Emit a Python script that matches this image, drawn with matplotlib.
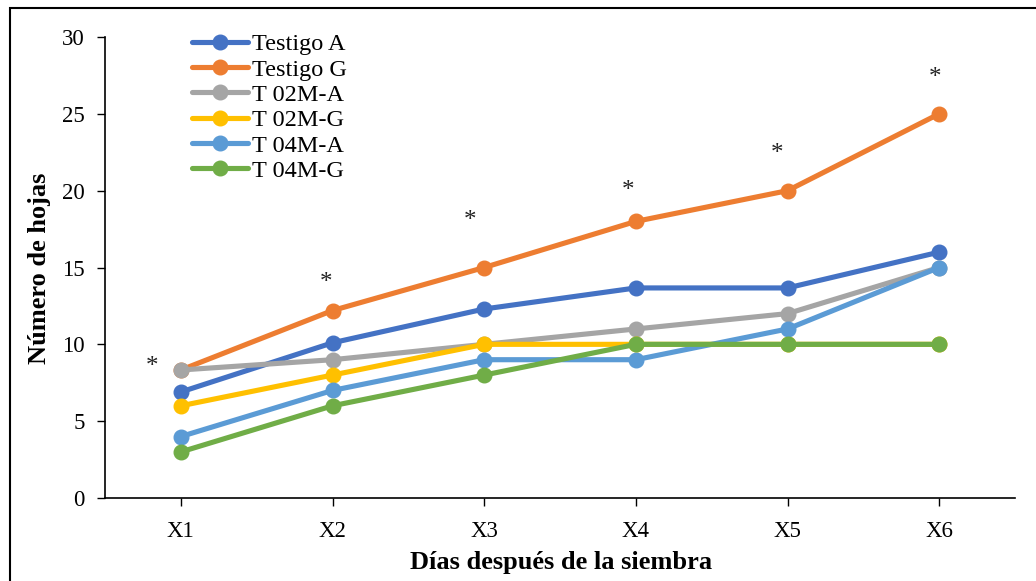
import matplotlib
matplotlib.use("Agg")
import matplotlib.pyplot as plt
from matplotlib.patches import Rectangle

plt.rcParams['font.family'] = ['Liberation Serif', 'DejaVu Serif']

categories = ["X1", "X2", "X3", "X4", "X5", "X6"]
series_names = ["Testigo A", "Testigo G", "T 02M-A", "T 02M-G", "T 04M-A", "T 04M-G"]
testigo_a = [6.9, 10.1, 12.3, 13.67, 13.67, 16.0]
testigo_g = [8.33, 12.2, 15.0, 18.0, 20.0, 25.0]
t02m_a = [8.33, 9.0, 10.0, 11.0, 12.0, 15.0]
t02m_g = [6.0, 8.0, 10.0, 10.0, 10.0, 10.0]
t04m_a = [4.0, 7.0, 9.0, 9.0, 11.0, 15.0]
t04m_g = [3.0, 6.0, 8.0, 10.0, 10.0, 10.0]
colors = ["#4472C4", "#ED7D31", "#A5A5A5", "#FFC000", "#5B9BD5", "#70AD47"]

# significance marks above each sampling day
star_x = [-0.19, 0.96, 1.91, 2.95, 3.93, 4.97]
star_y = [8.55, 14.0, 18.0, 20.0, 22.4, 27.3]

fig = plt.figure(figsize=(10.36, 5.81), dpi=100)
W, H = 1036, 581
ax = fig.add_axes([105 / W, 1 - 498 / H, (1015 - 105) / W, (498 - 37) / H])

x = list(range(len(categories)))
for name, vals, c in zip(series_names,
                         [testigo_a, testigo_g, t02m_a, t02m_g, t04m_a, t04m_g],
                         colors):
    ax.plot(x, vals, color=c, lw=3.7, marker='o', ms=10.5, label=name,
            solid_capstyle='round')

for sx, sy in zip(star_x, star_y):
    ax.text(sx, sy, "*", ha='center', va='center', fontsize=18, color='#222222')

ax.set_xlim(-0.5, 5.5)
ax.set_ylim(0, 30)
ax.set_yticks(range(0, 31, 5))
ax.set_xticks(x)
ax.set_xticklabels(categories)
ax.tick_params(axis='both', labelsize=16.5, length=5.5, width=1, color='black')
ax.tick_params(axis='x', pad=11)
ax.tick_params(axis='y', pad=9)
ax.spines['top'].set_visible(False)
ax.spines['right'].set_visible(False)
ax.spines['left'].set_linewidth(1.2)
ax.spines['bottom'].set_linewidth(1.2)

fig.text(40 / W, 1 - 268 / H, "Número de hojas", rotation=90, ha='center',
         va='center', fontsize=19, fontweight='bold')
fig.text(561 / W, 1 - 563 / H, "Días después de la siembra", ha='center',
         va='center', fontsize=19, fontweight='bold')

leg = ax.legend(loc='upper left', bbox_to_anchor=(87 / 910, 1.008), frameon=False,
                fontsize=17.5, handlelength=2.3, labelspacing=0.135,
                handletextpad=0.16, borderaxespad=0, borderpad=0)

fig.patches.append(Rectangle((10 / W, -0.05), 1.1, 1 - 8 / H + 0.05,
                             transform=fig.transFigure, fill=False,
                             edgecolor='black', lw=1.5))

fig.savefig("out.png", dpi=100)
